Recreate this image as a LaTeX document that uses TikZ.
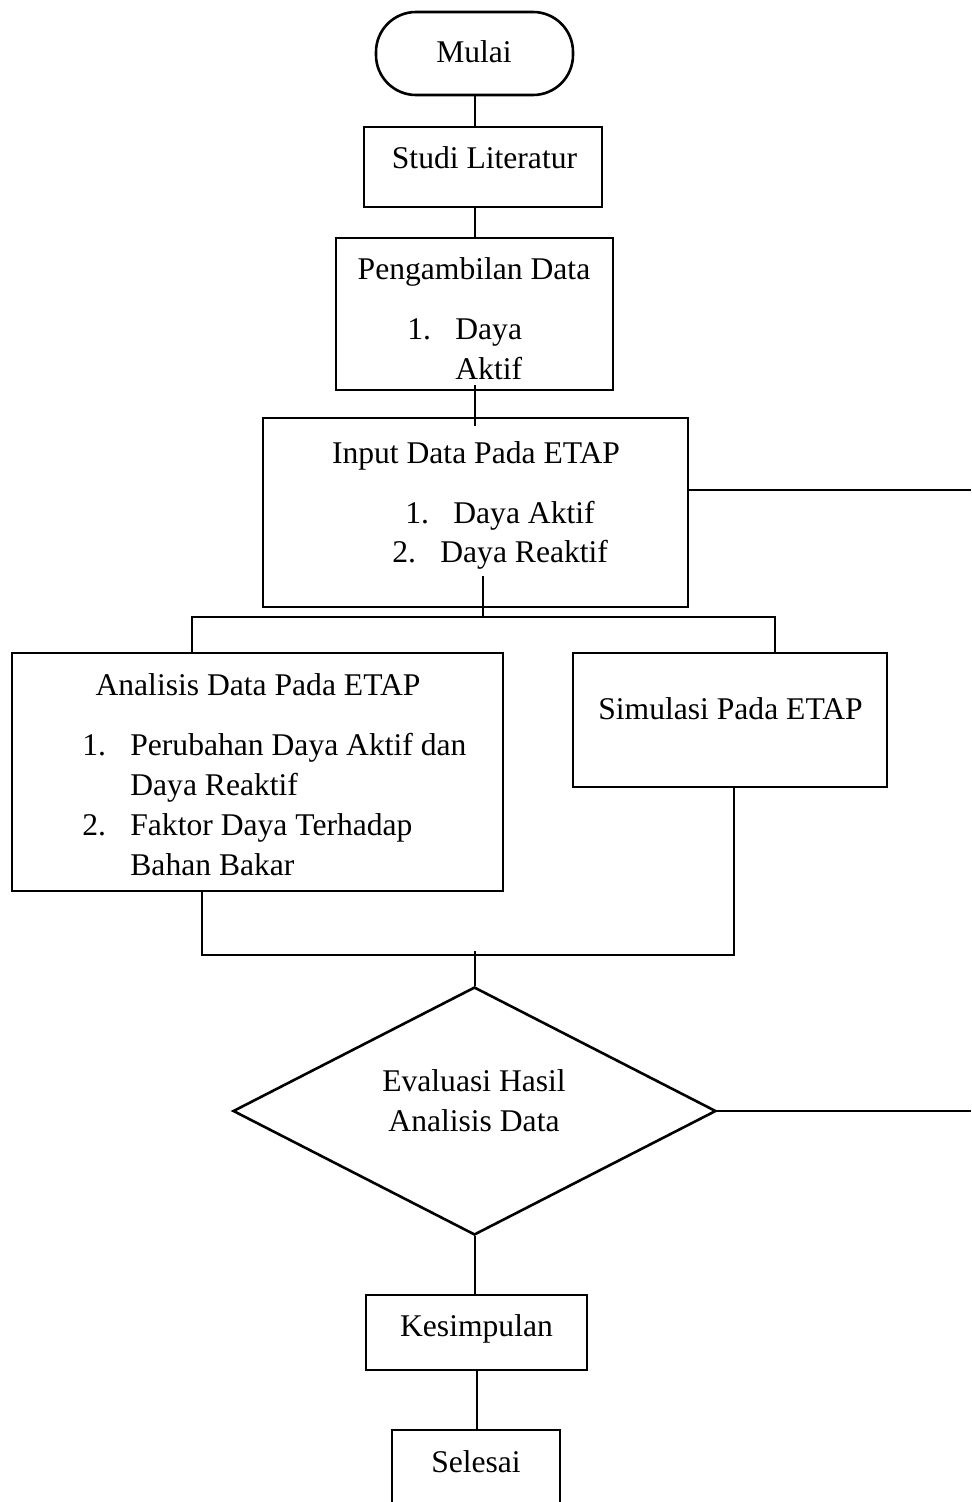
\documentclass[tikz,border=0pt]{standalone}
\usepackage{fontspec}
\setmainfont{Liberation Serif}
\usetikzlibrary{shapes.geometric}
\newcommand{\daftar}[1]{\begin{tabular}[t]{@{}p{24pt}@{}l@{}}#1\end{tabular}}

\begin{document}
\begin{tikzpicture}[
  x=0.5pt, y=-0.5pt,
  kotak/.style={draw, line width=1.3pt, inner sep=0pt},
  belah/.style={kotak, diamond},
  teks/.style={font=\fontsize{15.8}{20}\selectfont, inner sep=0pt, anchor=base},
  garis/.style={line width=1pt}]
\clip (0,0) rectangle (971,1502);
% kotak-kotak
\node[kotak, rounded corners=20pt, minimum width=98.5pt, minimum height=41.5pt] (mulai) at (474.5,53.5) {};
\node[kotak, minimum width=119pt, minimum height=40pt] (studi) at (483,167) {};
\node[kotak, minimum width=138.5pt, minimum height=76pt] (ambil) at (474.5,314) {};
\node[kotak, minimum width=212.5pt, minimum height=94.5pt] (input) at (475.5,512.5) {};
\node[kotak, minimum width=245.5pt, minimum height=119pt] (analisis) at (257.5,772) {};
\node[kotak, minimum width=157pt, minimum height=67pt] (simulasi) at (730,720) {};
\node[belah, minimum width=241.5pt, minimum height=124pt] (evaluasi) at (474.5,1111) {};
\node[kotak, minimum width=110.5pt, minimum height=37.5pt] (kesimpulan) at (476.5,1332.5) {};
\node[kotak, minimum width=84pt, minimum height=50pt] (selesai) at (476,1480) {};
% teks
\node[teks] (tmulai) at (474,63) {Mulai};
\node[teks] (tstudi) at (484.5,169) {Studi Literatur};
\node[teks] (tambil) at (474,280) {Pengambilan Data};
\node[teks, anchor=base west] (lambil) at (407,340) {\daftar{1. & Daya\\ & Aktif}};
\node[teks] (tinput) at (476,463) {Input Data Pada ETAP};
\node[teks, anchor=base west] (linput1) at (405,523) {\daftar{1. & Daya Aktif}};
\node[teks, anchor=base west] (linput2) at (392,562) {\daftar{2. & Daya Reaktif}};
\node[teks] (tanalisis) at (258,695) {Analisis Data Pada ETAP};
\node[teks, anchor=base west] (lanalisis) at (82,755)
  {\daftar{1. & Perubahan Daya Aktif dan\\ & Daya Reaktif\\ 2. & Faktor Daya Terhadap\\ & Bahan Bakar}};
\node[teks] (tsimulasi) at (730.5,719) {Simulasi Pada ETAP};
\node[teks] (tevaluasi) at (474,1091) {\begin{tabular}[t]{@{}c@{}}Evaluasi Hasil\\Analisis Data\end{tabular}};
\node[teks] (tkesimpulan) at (476.5,1336) {Kesimpulan};
\node[teks] (tselesai) at (476,1472) {Selesai};
% titik bantu
\coordinate (kanan1) at (971,490);
\coordinate (cabang) at (483,617);
\coordinate (kiri) at (192,617);
\coordinate (kanan) at (775,617);
\coordinate (gabkiri) at (202,955);
\coordinate (gabkanan) at (734,955);
\coordinate (kanan2) at (971,1111);
% garis
\draw[garis] (mulai.south) -- (mulai.south |- studi.north);
\draw[garis] (ambil.north |- studi.south) -- (ambil.north);
\draw[garis] ([yshift=3pt]ambil.south) -- ([yshift=-4.5pt]ambil.south |- input.north);
\draw[garis] (input.east |- kanan1) -- (kanan1);
\draw[garis] ([yshift=16pt]input.south -| cabang) -- (cabang);
\draw[garis] (kiri |- analisis.north) -- (kiri) -- (kanan) -- (kanan |- simulasi.north);
\draw[garis] (gabkiri |- analisis.south) -- (gabkiri) -- (gabkanan) -- (gabkanan |- simulasi.south);
\draw[garis] ([yshift=2pt]evaluasi.north |- gabkiri) -- (evaluasi.north);
\draw[garis] (evaluasi.east) -- (kanan2);
\draw[garis] (evaluasi.south) -- (evaluasi.south |- kesimpulan.north);
\draw[garis] (kesimpulan.south) -- (kesimpulan.south |- selesai.north);
\end{tikzpicture}
\end{document}
